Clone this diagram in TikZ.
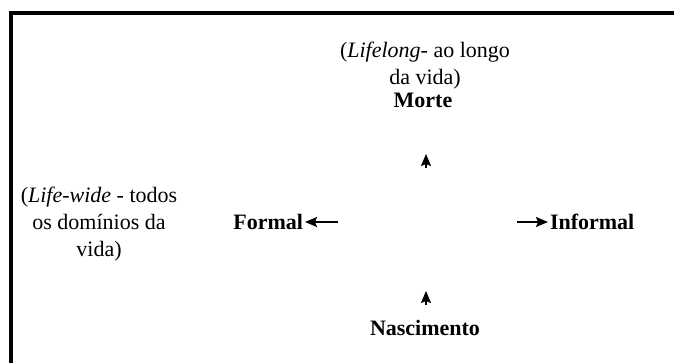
\documentclass[tikz,border=0pt]{standalone}
\usepackage{fontspec}
\setmainfont{Liberation Serif}
\usetikzlibrary{arrows.meta}

\begin{document}
\begin{tikzpicture}[x=1pt,y=-1pt,
  every text node part/.style={align=center},
  every node/.style={inner sep=2pt,outer sep=0pt,font=\fontsize{22}{27}\selectfont},
  arr/.style={-{Stealth[length=12pt,width=10pt,inset=2pt]},line width=1.5pt}]
\useasboundingbox (0,0) rectangle (674,363);
\draw[line width=4pt] (10.7,363) -- (10.7,12.7) -- (674,12.7);
  \node (lifelong) [anchor=base] at (425,85) {(\textit{Lifelong}- ao longo\\ da vida)};
  \node (morte) [anchor=base] at (423,108) {\textbf{Morte}};
  \node (lifewide) [anchor=base] at (99,257) {(\textit{Life-wide} - todos\\ os domínios da\\ vida)};
  \node (formal) [anchor=base east] at (305,230) {\textbf{Formal}};
  \node (informal) [anchor=base west] at (548,230) {\textbf{Informal}};
  \node (nasc) [anchor=base] at (425,335) {\textbf{Nascimento}};
  \coordinate (up1) at (426,168);
  \coordinate (tip1) at (426,154);
  \coordinate (up2) at (426,305);
  \coordinate (tip2) at (426,291);
  \coordinate (fl) at (338,222);
  \coordinate (il) at (517,222);
\draw[arr] (up1) -- (tip1);
\draw[arr] (up2) -- (tip2);
\draw[arr] (fl) -- (formal.east |- fl);
\draw[arr] (il) -- (informal.west |- il);
\end{tikzpicture}
\end{document}
